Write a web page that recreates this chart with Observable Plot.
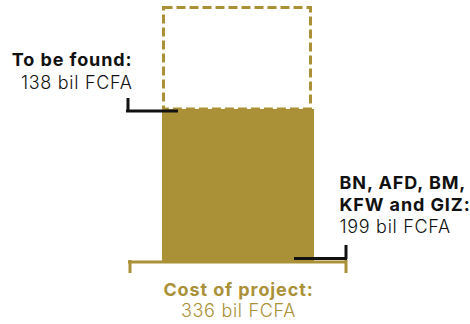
<!DOCTYPE html>
<html><head><meta charset="utf-8">
<script src="https://cdn.jsdelivr.net/npm/d3@7"></script>
<script src="https://cdn.jsdelivr.net/npm/@observablehq/plot@0.6"></script>
<style>
html,body{margin:0;padding:0;background:#fff}
#chart svg{display:block}
#chart [font-weight="700"]{letter-spacing:0.9px}
#chart [font-weight="300"]{letter-spacing:0.7px}
</style>
</head><body><div id="chart"></div>
<script>
// ---- data ----
const project = "Cost of project";
const fundedLines = ["BN, AFD, BM,", "KFW and GIZ:"];
const fundedValue = 199;
const gapTitle = "To be found:";
const gapValue = 138;
const totalTitle = "Cost of project:";
const totalValue = 336;
const unit = "bil FCFA";

// ---- style ----
const gold = "#aa9036";
const ink = "#111111";
const font = "Inter, 'Open Sans', sans-serif";
const fs = 18;
const yMax = fundedValue + gapValue;

const common = {x: () => project, fontFamily: font, fontSize: fs, lineAnchor: "bottom"};

const chart = Plot.plot({
  width: 470, height: 324,
  marginLeft: 162, marginRight: 156, marginTop: 3.6, marginBottom: 63,
  x: {type: "band", domain: [project], padding: 0, axis: null},
  y: {domain: [0, yMax], axis: null},
  style: {background: "#fff", fontFamily: font},
  marks: [
    // funded part (solid)
    Plot.barY([fundedValue], {x: () => project, y1: 0, y2: d => d, fill: gold}),
    // to-be-found part (dashed outline)
    Plot.barY([gapValue], {x: () => project, y1: fundedValue, y2: d => fundedValue + d,
      fill: "none", stroke: gold, strokeWidth: 3, strokeDasharray: "9,4",
      insetTop: 4, insetLeft: 1.5, insetRight: 3.5}),
    // gold bracket under the bar (total cost)
    Plot.tickY([0], {y: d => d, dy: 0.5, stroke: gold, strokeWidth: 3, insetLeft: -34, insetRight: -33}),
    Plot.ruleX([0], {x: () => project, y1: d => d, y2: d => d, dx: -108.5, stroke: gold, strokeWidth: 3, insetTop: -1, insetBottom: -12}),
    Plot.ruleX([0], {x: () => project, y1: d => d, y2: d => d, dx: 107.5, stroke: gold, strokeWidth: 3, insetTop: -1, insetBottom: -12}),
    // left leader (to be found)
    Plot.tickY([fundedValue], {y: d => d, dy: 1.5, stroke: ink, strokeWidth: 3, insetLeft: -36, insetRight: 136}),
    Plot.ruleX([fundedValue], {x: () => project, y1: d => d, y2: d => d, dx: -110.5, stroke: ink, strokeWidth: 3, insetTop: -11, insetBottom: -3}),
    // right leader (funded)
    Plot.tickY([0], {y: d => d, dy: -3, stroke: ink, strokeWidth: 3, insetLeft: 132, insetRight: -33}),
    Plot.ruleX([0], {x: () => project, y1: d => d, y2: d => d, dx: 107.5, stroke: ink, strokeWidth: 3, insetTop: -16, insetBottom: 2}),
    // left label
    Plot.text([gapTitle], {...common, y: () => fundedValue, text: d => d, dx: -106, dy: -44, textAnchor: "end", fontWeight: 700, fill: ink}),
    Plot.text([`${gapValue} ${unit}`], {...common, y: () => fundedValue, text: d => d, dx: -106, dy: -21, textAnchor: "end", fontWeight: 300, fill: ink}),
    // right label
    Plot.text([fundedLines.join("\n")], {...common, y: () => 0, text: d => d, dx: 101, dy: -51, lineHeight: 22 / fs, textAnchor: "start", fontWeight: 700, fill: ink}),
    Plot.text([`${fundedValue} ${unit}`], {...common, y: () => 0, text: d => d, dx: 101, dy: -29, textAnchor: "start", fontWeight: 300, fill: ink}),
    // bottom label
    Plot.text([totalTitle], {...common, y: () => 0, text: d => d, dy: 34, textAnchor: "middle", fontWeight: 700, fill: gold}),
    Plot.text([`${totalValue} ${unit}`], {...common, y: () => 0, text: d => d, dy: 55, textAnchor: "middle", fontWeight: 300, fill: gold})
  ]
});
document.getElementById("chart").append(chart);
</script>
</body></html>
